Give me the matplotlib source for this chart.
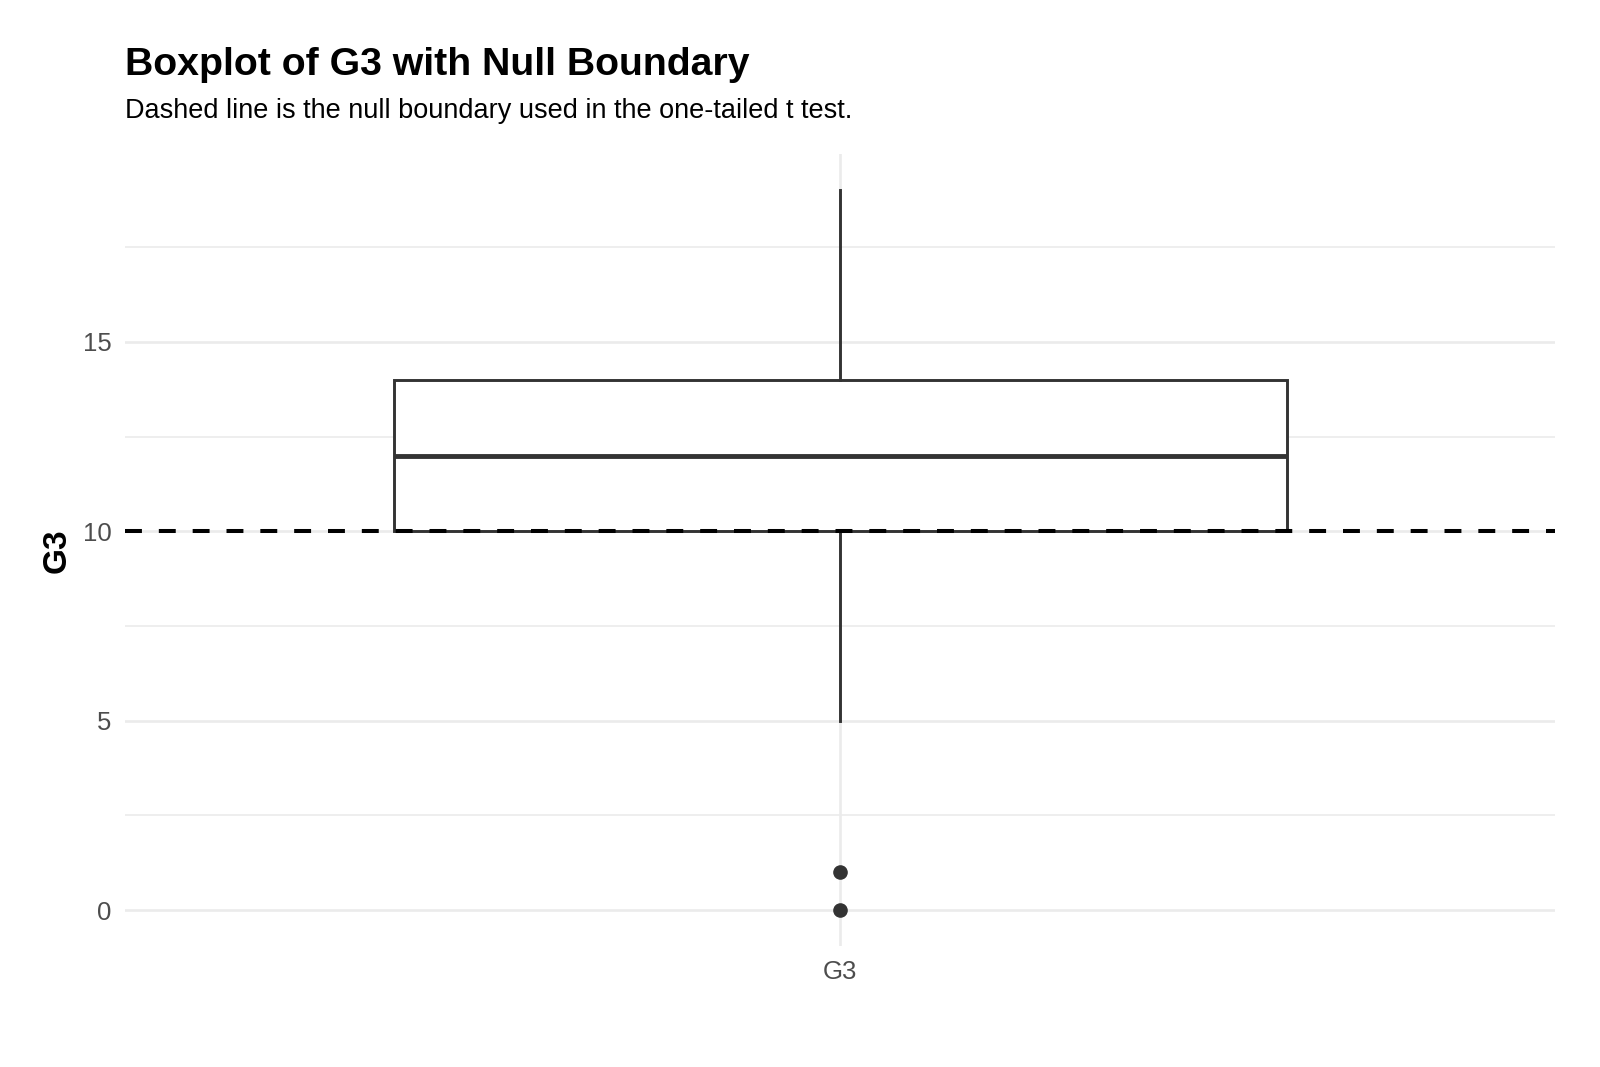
import matplotlib
matplotlib.use("Agg")
import matplotlib.pyplot as plt

plt.rcParams['font.family'] = ['Liberation Sans', 'DejaVu Sans']

# box statistics
category = "G3"
whisker_low = 5
q1 = 10
median = 12
q3 = 14
whisker_high = 19
outliers = [0, 1]
null_boundary = 10

y_ticks = [0, 5, 10, 15]
y_minor = [2.5, 7.5, 12.5, 17.5]

fig = plt.figure(figsize=(16, 10.67), dpi=100)
W, H = 1600, 1067
left, right, top, bottom = 125.5, 1555, 154.3, 946.2
ax = fig.add_axes([left / W, 1 - bottom / H, (right - left) / W, (bottom - top) / H])

grid_col = "#EBEBEB"
box_col = "#333333"

ax.set_xlim(0.4, 1.6)
ax.set_ylim(-0.95, 19.95)

for y in y_ticks:
    ax.axhline(y, color=grid_col, lw=1.9, zorder=0)
for y in y_minor:
    ax.axhline(y, color=grid_col, lw=1.2, zorder=0)
ax.axvline(1, color=grid_col, lw=1.9, zorder=0)

stats = [dict(med=median, q1=q1, q3=q3, whislo=whisker_low, whishi=whisker_high,
              fliers=outliers, label=category)]
ax.bxp(stats, positions=[1], widths=0.75, showcaps=False, patch_artist=True,
       boxprops=dict(facecolor="white", edgecolor=box_col, linewidth=2.1),
       whiskerprops=dict(color=box_col, linewidth=2.1),
       medianprops=dict(color=box_col, linewidth=3.5),
       flierprops=dict(marker="o", markerfacecolor=box_col, markeredgecolor=box_col,
                       markersize=9.5),
       zorder=2)

ax.axhline(null_boundary, color="black", lw=2.9, dashes=(4.2, 4.2), zorder=3)

for s in ax.spines.values():
    s.set_visible(False)
ax.set_yticks(y_ticks)
ax.set_yticklabels([str(t) for t in y_ticks])
ax.set_xticks([1])
ax.set_xticklabels([category])
ax.tick_params(length=0, labelsize=18.5, colors="#4D4D4D", pad=10)
ax.tick_params(axis='x', pad=10)

fig.text(57.5 / W, 1 - 551 / H, "G3", rotation=90, fontsize=24, fontweight="bold",
         ha="center", va="center")

fig.text(left / W, 1 - 75 / H, "Boxplot of G3 with Null Boundary", fontsize=28.3,
         fontweight="bold", ha="left", va="baseline")
fig.text(left / W, 1 - 118 / H,
         "Dashed line is the null boundary used in the one-tailed t test.",
         fontsize=19.5, ha="left", va="baseline")

fig.savefig("out.png", dpi=100, facecolor="white")
